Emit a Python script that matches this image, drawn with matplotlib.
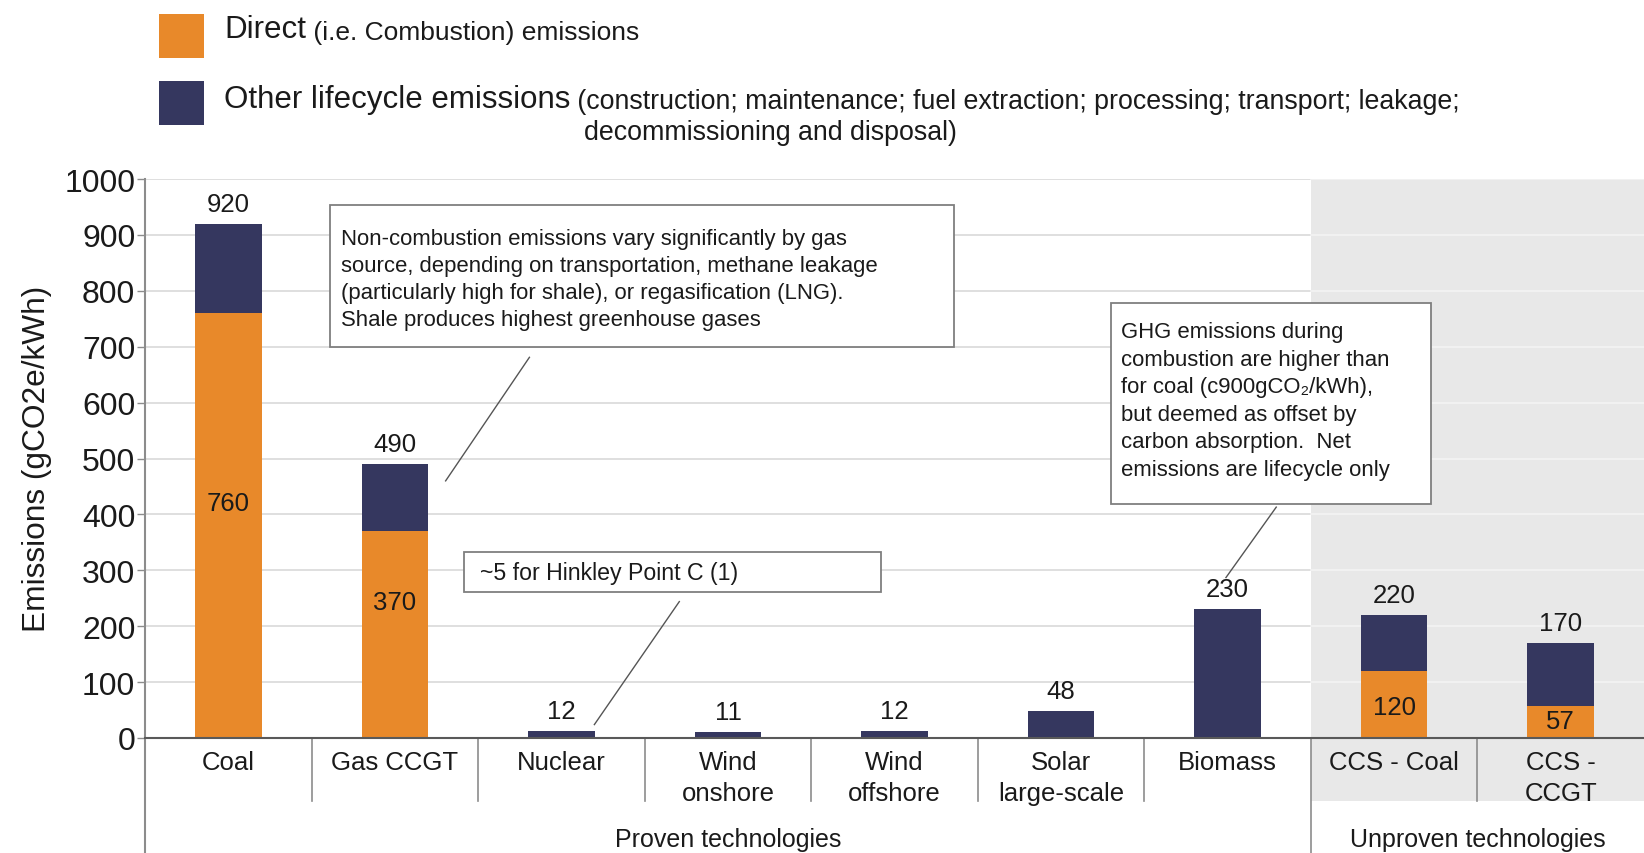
import matplotlib.pyplot as plt
from matplotlib.patches import Rectangle

# data (gCO2e/kWh)
categories = ["Coal", "Gas CCGT", "Nuclear", "Wind\nonshore", "Wind\noffshore",
              "Solar\nlarge-scale", "Biomass", "CCS - Coal", "CCS -\nCCGT"]
totals = [920, 490, 12, 11, 12, 48, 230, 220, 170]
direct = [760, 370, 0, 0, 0, 0, 0, 120, 57]
lifecycle = [t - d for t, d in zip(totals, direct)]
groups = ["Proven technologies", "Unproven technologies"]
group_sizes = [7, 2]

# layout only: where the in-bar labels of the direct part sit
direct_label_y = {0: 420, 1: 243, 7: 55, 8: 30}

orange = "#E8892A"
navy = "#35375F"
shade = "#E8E8E8"
edge = "#7F7F7F"
txt = "#1A1A1A"

sans = ["Liberation Sans", "DejaVu Sans"]
narrow = ["Liberation Sans Narrow", "Liberation Sans", "DejaVu Sans"]
plt.rcParams["font.family"] = sans

W, H = 1644, 854
fig = plt.figure(figsize=(W / 100, H / 100), dpi=100)
ax = fig.add_axes([145 / W, 1 - 739 / H, 1 - 145 / W, (739 - 180) / H])
ax.set_xlim(-0.5, len(categories) - 0.5)
ax.set_ylim(0, 1000)
px = (739 - 180) / 1000  # pixels per data unit

# shaded "unproven" region, running under the axis too
split = group_sizes[0] - 0.5
ax.add_patch(Rectangle((split, -63 / px), group_sizes[1], 1000 + 63 / px,
                       facecolor=shade, edgecolor="none", zorder=0, clip_on=False))

# gridlines (lighter inside the shaded area)
for v in range(100, 1001, 100):
    ax.plot([-0.5, split], [v, v], color="#D9D9D9", lw=1.2, zorder=1)
    ax.plot([split, len(categories) - 0.5], [v, v], color="#F4F4F4", lw=1.2, zorder=1)

x = list(range(len(categories)))
ax.bar(x, direct, width=0.4, color=orange, zorder=3)
ax.bar(x, lifecycle, width=0.4, bottom=direct, color=navy, zorder=3)

for i, t in enumerate(totals):
    ax.annotate(str(t), (i, t), xytext=(0, 8), textcoords="offset pixels",
                ha="center", va="bottom", fontsize=18.5, color=txt, zorder=5)
for i, yv in direct_label_y.items():
    ax.text(i, yv, str(direct[i]), ha="center", va="center", fontsize=18.5,
            color=txt, zorder=5)

# axes styling
for s in ["top", "right", "left"]:
    ax.spines[s].set_visible(False)
ax.spines["bottom"].set_color("#595959")
ax.spines["bottom"].set_linewidth(1.5)
ax.spines["bottom"].set_zorder(4)
ax.set_yticks(range(0, 1001, 100))
ax.tick_params(axis="y", length=6, width=1, color="#8C8C8C", labelsize=23,
               labelcolor=txt, pad=1)
ax.set_xticks([])

# vertical lines: y axis, group split and category separators
ax.plot([-0.5, -0.5], [1000, -230], color="#8C8C8C", lw=1.5, clip_on=False, zorder=4)
ax.plot([split, split], [0, -230], color="#8C8C8C", lw=1.2, clip_on=False, zorder=4)
for i in range(1, len(categories)):
    if i - 0.5 != split:
        ax.plot([i - 0.5, i - 0.5], [0, -63 / px], color="#8C8C8C", lw=1.2,
                clip_on=False, zorder=4)

for i, c in enumerate(categories):
    ax.annotate(c, (i, 0), xytext=(0, -12), textcoords="offset pixels", ha="center",
                va="top", fontsize=18.5, color=txt, linespacing=1.38,
                annotation_clip=False)

start = -0.5
for g, n in zip(groups, group_sizes):
    ax.annotate(g, (start + n / 2, 0), xytext=(0, -101), textcoords="offset pixels",
                ha="center", va="center", fontsize=18, color=txt,
                annotation_clip=False)
    start += n

fig.text(37 / W, 1 - 459 / H, "Emissions (gCO2e/kWh)", rotation=90, ha="center",
         va="center", fontsize=22.8, color=txt, family=narrow)

# annotation boxes
def note_box(x0, x1, y0, y1):
    ax.add_patch(Rectangle((x0, y0), x1 - x0, y1 - y0, facecolor="white",
                           edgecolor=edge, lw=1.3, zorder=6))

note_box(0.613, 4.355, 700, 953)
ax.text(0.676, 913, "Non-combustion emissions vary significantly by gas\n"
        "source, depending on transportation, methane leakage\n"
        "(particularly high for shale), or regasification (LNG).\n"
        "Shale produces highest greenhouse gases",
        ha="left", va="top", fontsize=15.9, linespacing=1.38, color=txt, zorder=7)
ax.plot([1.808, 1.305], [681, 460], color="#555555", lw=1, zorder=6)

note_box(1.418, 3.92, 261, 332)
ax.text(1.513, 296, "~5 for Hinkley Point C (1)", ha="left", va="center",
        fontsize=16.7, color=txt, family=narrow, zorder=7)
ax.plot([2.708, 2.198], [244, 24], color="#555555", lw=1, zorder=6)

note_box(5.299, 7.223, 418, 779)
ax.text(5.362, 746, "GHG emissions during\ncombustion are higher than\n"
        "for coal (c900gCO\u2082/kWh),\nbut deemed as offset by\n"
        "carbon absorption.  Net\nemissions are lifecycle only",
        ha="left", va="top", fontsize=15.9, linespacing=1.41, color=txt,
        family=sans, zorder=7)
ax.plot([6.292, 5.99], [413, 287], color="#555555", lw=1, zorder=6)

# legend at the top
fig.add_artist(Rectangle((159 / W, 1 - 59 / H), 45 / W, 44 / H, facecolor=orange,
                         edgecolor="none", transform=fig.transFigure))
fig.add_artist(Rectangle((159 / W, 1 - 126 / H), 45 / W, 44 / H, facecolor=navy,
                         edgecolor="none", transform=fig.transFigure))
t1 = fig.text(224 / W, 1 - 30 / H, "Direct", ha="left", va="center", fontsize=22.5,
              color=txt, family=narrow)
ax.annotate(" (i.e. Combustion) emissions", xy=(1, 0), xycoords=t1, ha="left",
            va="bottom", fontsize=19, color=txt, family=narrow, annotation_clip=False)
t2 = fig.text(224 / W, 1 - 100 / H, "Other lifecycle emissions", ha="left",
              va="center", fontsize=22.5, color=txt, family=narrow)
ax.annotate(" (construction; maintenance; fuel extraction; processing; transport; leakage;",
            xy=(1, 0), xycoords=t2, ha="left", va="bottom", fontsize=19.3, color=txt,
            family=narrow, annotation_clip=False)
fig.text(584 / W, 1 - 133 / H, "decommissioning and disposal)", ha="left",
         va="center", fontsize=19.3, color=txt, family=narrow)

fig.savefig("out.png", dpi=100)
